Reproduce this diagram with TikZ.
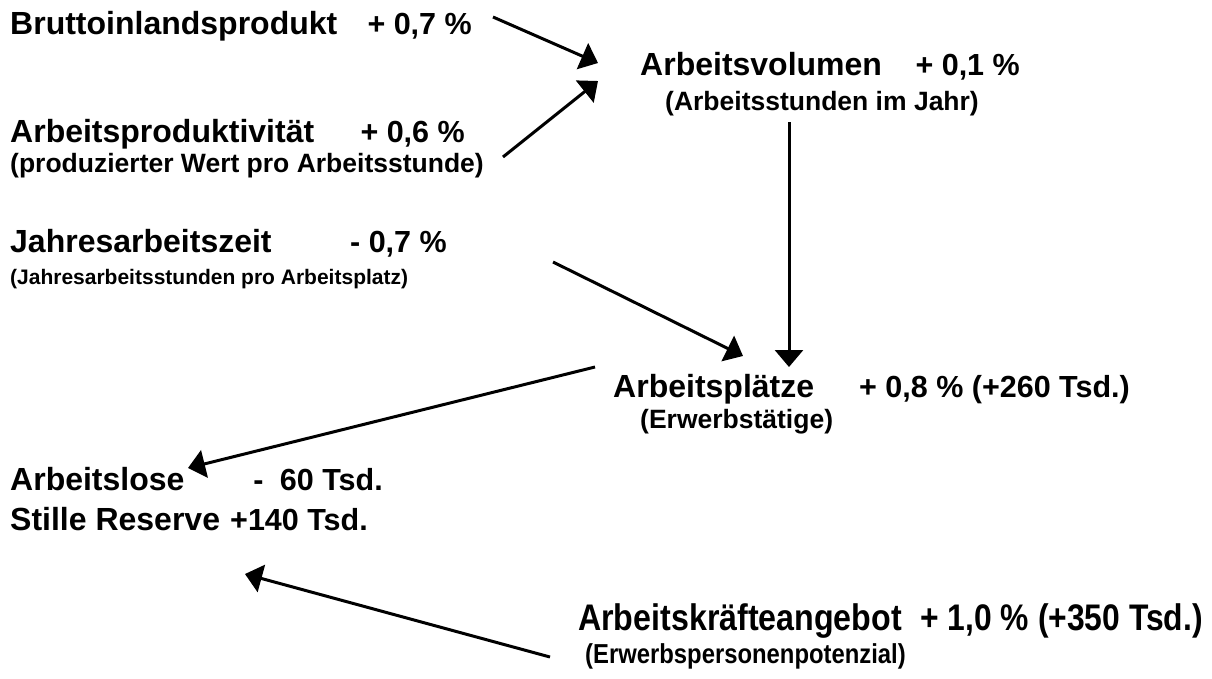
\documentclass[tikz,border=0pt]{standalone}
\usepackage{fontspec}
\setmainfont{Liberation Sans}
\usetikzlibrary{arrows.meta}
\begin{document}
\begin{tikzpicture}[x=1pt,y=-1pt,
  lbl/.style={anchor=base west,inner sep=0pt,font=\bfseries\fontsize{32}{37}\selectfont},
  val/.style={anchor=base east,inner sep=0pt,font=\bfseries\fontsize{30.5}{35}\selectfont},
  sub/.style={anchor=base west,inner sep=0pt,font=\bfseries\fontsize{26.5}{30}\selectfont},
  smallsub/.style={anchor=base west,inner sep=0pt,font=\bfseries\fontsize{21}{25}\selectfont},
  tall/.style={font=\bfseries\fontsize{37}{42}\selectfont},
  tallsub/.style={font=\bfseries\fontsize{27.4}{32}\selectfont},
  arr/.style={line width=3pt,-{Triangle[length=17pt,width=28pt]}}]
\useasboundingbox (0,0) rectangle (1212,678);
% left column
\node[lbl] (bip) at (10,34) {Bruttoinlandsprodukt};
\node[val] (bipv) at (472,34) {+ 0,7 \%};
\node[lbl] (prod) at (10,142) {Arbeitsproduktivität};
\node[val] (prodv) at (465,142) {+ 0,6 \%};
\node[sub] (prods) at (10,172) {(produzierter Wert pro Arbeitsstunde)};
\node[lbl] (jaz) at (10,252) {Jahresarbeitszeit};
\node[val] (jazv) at (447,252) {- 0,7 \%};
\node[smallsub] (jazs) at (10,284) {(Jahresarbeitsstunden pro Arbeitsplatz)};
% right column
\node[lbl] (vol) at (640,75) {Arbeitsvolumen};
\node[val] (volv) at (1020,75) {+ 0,1 \%};
\node[sub] (vols) at (665,110) {(Arbeitsstunden im Jahr)};
\node[lbl] (apl) at (613,397) {Arbeitsplätze};
\node[val] (aplv) at (1130,397) {+ 0,8 \% (+260 Tsd.)};
\node[sub] (apls) at (640,428) {(Erwerbstätige)};
\node[lbl] (alo) at (10,490) {Arbeitslose};
\node[val] (alov) at (383,490) {-\hspace{8pt} 60 Tsd.};
\node[lbl] (sr) at (10,530) {Stille Reserve};
\node[val] (srv) at (368,530) {+140 Tsd.};
\node[lbl,tall] (akr) at (578,630) {\scalebox{0.87}[1]{Arbeitskräfteangebot}};
\node[val,tall] (akrv) at (1203,630) {\scalebox{0.86}[1]{+ 1,0 \% (+350 Tsd.)}};
\node[sub,tallsub] (akrs) at (585,663) {\scalebox{0.87}[1]{(Erwerbspersonenpotenzial)}};
% arrow end points
\coordinate (a1s) at (493,17);  \coordinate (a1e) at (598,63);
\coordinate (a2s) at (503,157); \coordinate (a2e) at (598,81);
\coordinate (a3s) at (789,122); \coordinate (a3e) at (789,367);
\coordinate (a4s) at (553,262); \coordinate (a4e) at (743,356);
\coordinate (a5s) at (595,367); \coordinate (a5e) at (188,468);
\coordinate (a6s) at (550,657); \coordinate (a6e) at (245,574);
\draw[arr] (a1s) -- (a1e);
\draw[arr] (a2s) -- (a2e);
\draw[arr] (a3s) -- (a3e);
\draw[arr] (a4s) -- (a4e);
\draw[arr] (a5s) -- (a5e);
\draw[arr] (a6s) -- (a6e);
\end{tikzpicture}
\end{document}
